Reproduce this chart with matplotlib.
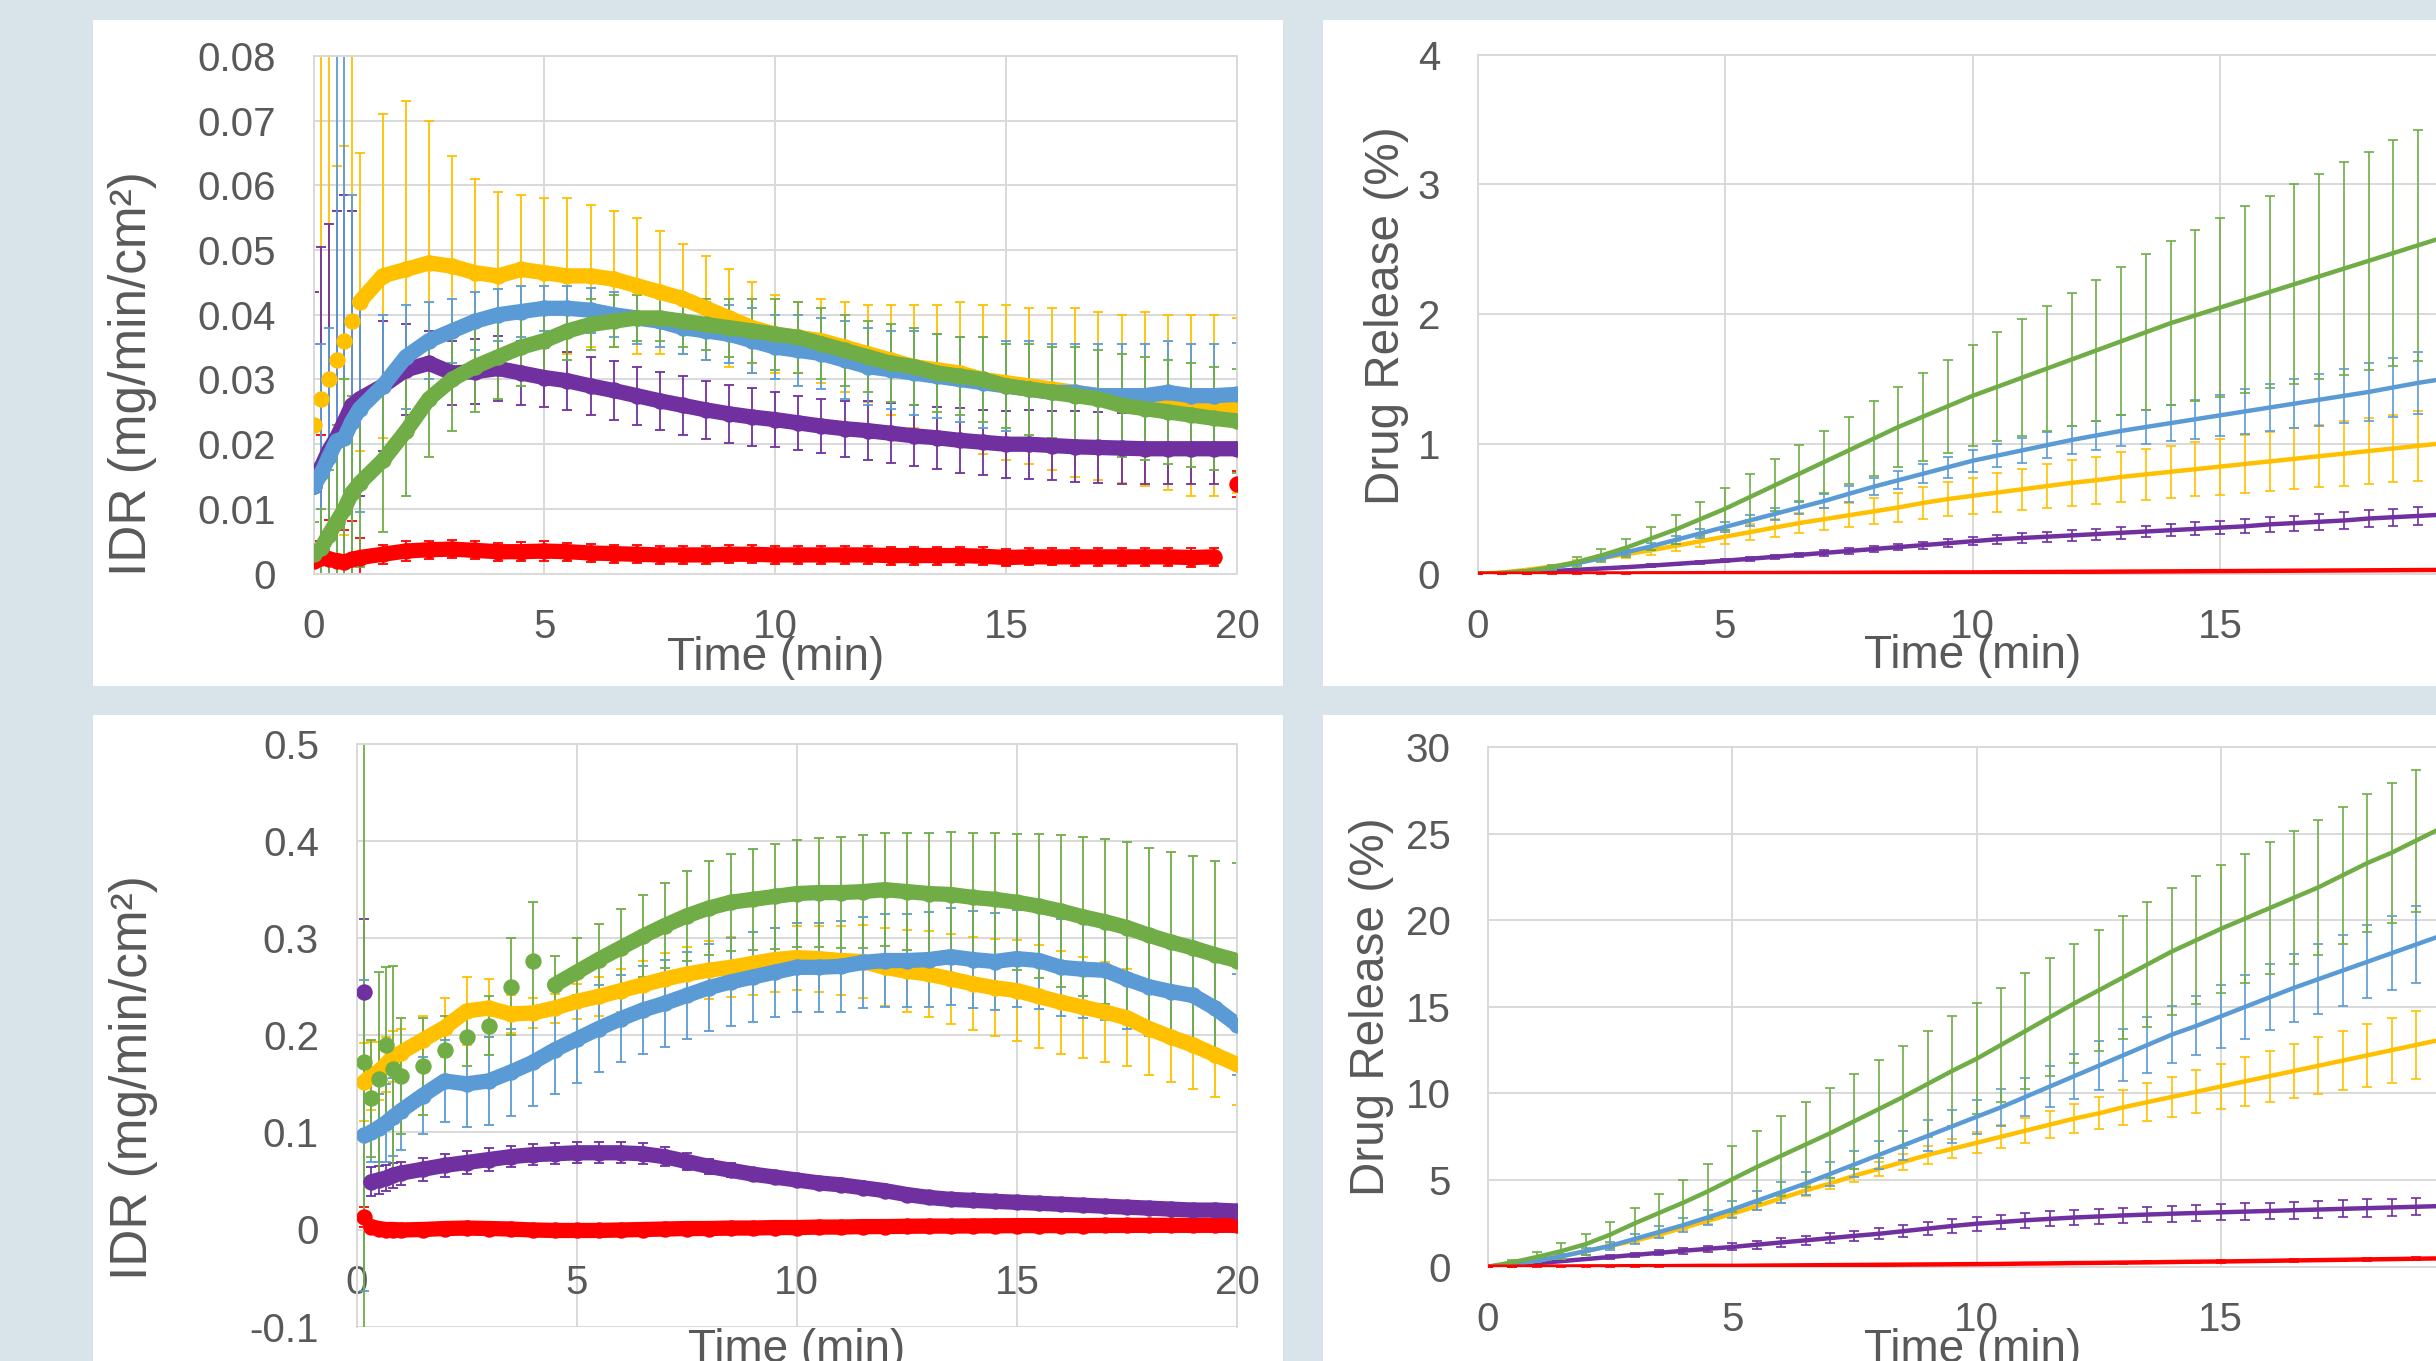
import numpy as np
import matplotlib
matplotlib.use("Agg")
import matplotlib.pyplot as plt
from matplotlib.patches import Rectangle
from matplotlib.ticker import FuncFormatter

plt.rcParams['font.family'] = ['Liberation Sans', 'DejaVu Sans']

#------------------ top-left: IDR, first formulation ------------------
idr_a_time = [0, 0.17, 0.33, 0.5, 0.67, 0.83, 1.0,
              1.5, 2.0, 2.5, 3.0, 3.5, 4.0, 4.5, 5.0, 5.5, 6.0,
              6.5, 7.0, 7.5, 8.0, 8.5, 9.0, 9.5, 10.0, 10.5, 11.0,
              11.5, 12.0, 12.5, 13.0, 13.5, 14.0, 14.5, 15.0, 15.5, 16.0,
              16.5, 17.0, 17.5, 18.0, 18.5, 19.0, 19.5, 20.0]
idr_a_yellow = [0.023, 0.027, 0.030, 0.033, 0.036, 0.039, 0.042,
                0.046, 0.047, 0.048, 0.0475, 0.0465, 0.046, 0.047, 0.0465, 0.046, 0.046,
                0.0455, 0.0445, 0.0435, 0.0425, 0.041, 0.0395, 0.038, 0.037, 0.0365, 0.036,
                0.035, 0.034, 0.033, 0.032, 0.0315, 0.031, 0.030, 0.0295, 0.029, 0.0285,
                0.028, 0.0275, 0.027, 0.027, 0.0265, 0.026, 0.026, 0.026]
idr_a_yellow_err = [0.06, 0.06, 0.06, 0.03, 0.03, 0.045, 0.023,
                    0.025, 0.026, 0.022, 0.017, 0.0145, 0.013, 0.0115, 0.0115, 0.012, 0.011,
                    0.0105, 0.0105, 0.0095, 0.0085, 0.008, 0.0075, 0.007, 0.006, 0.0055, 0.0065,
                    0.007, 0.0075, 0.0085, 0.0095, 0.010, 0.011, 0.0115, 0.012, 0.012, 0.0125,
                    0.013, 0.013, 0.013, 0.0135, 0.0135, 0.014, 0.014, 0.0135]
idr_a_blue = [0.0135, 0.0155, 0.018, 0.0205, 0.021, 0.0235, 0.0255,
              0.029, 0.0335, 0.036, 0.0375, 0.039, 0.040, 0.0405, 0.041, 0.041, 0.0407,
              0.040, 0.0395, 0.039, 0.038, 0.0375, 0.037, 0.036, 0.035, 0.0345, 0.034,
              0.033, 0.032, 0.0315, 0.031, 0.0305, 0.030, 0.0295, 0.029, 0.0285, 0.028,
              0.028, 0.0275, 0.0275, 0.0275, 0.028, 0.0275, 0.0275, 0.0277]
idr_a_blue_err = [0.022, 0.02, 0.02, 0.07, 0.07, 0.035, 0.016,
                  0.011, 0.008, 0.006, 0.005, 0.0045, 0.004, 0.004, 0.0035, 0.0035, 0.0035,
                  0.0035, 0.004, 0.004, 0.004, 0.0045, 0.0045, 0.005, 0.005, 0.0055, 0.0055,
                  0.006, 0.006, 0.006, 0.0065, 0.0065, 0.0065, 0.007, 0.007, 0.0075, 0.0075,
                  0.0075, 0.008, 0.008, 0.008, 0.008, 0.008, 0.008, 0.008]
idr_a_green = [0.003, 0.004, 0.006, 0.008, 0.010, 0.0125, 0.014,
               0.0175, 0.022, 0.027, 0.030, 0.032, 0.0335, 0.035, 0.036, 0.0375, 0.0385,
               0.039, 0.0395, 0.0395, 0.039, 0.0385, 0.038, 0.0375, 0.037, 0.0365, 0.0355,
               0.0345, 0.0335, 0.0325, 0.032, 0.031, 0.0305, 0.030, 0.029, 0.0285, 0.028,
               0.0275, 0.027, 0.026, 0.0255, 0.025, 0.0245, 0.024, 0.0236]
idr_a_green_err = [0.005, 0.006, 0.01, 0.015, 0.02, 0.015, 0.013,
                   0.011, 0.010, 0.009, 0.008, 0.007, 0.0065, 0.006, 0.005, 0.0045, 0.004,
                   0.004, 0.0035, 0.0035, 0.004, 0.004, 0.0045, 0.005, 0.0055, 0.0055, 0.0055,
                   0.0055, 0.0055, 0.006, 0.006, 0.006, 0.006, 0.0065, 0.0065, 0.007, 0.007,
                   0.0075, 0.0075, 0.008, 0.008, 0.008, 0.008, 0.008, 0.008]
idr_a_purple = [0.0135, 0.0165, 0.019, 0.021, 0.0235, 0.026, 0.027,
                0.029, 0.0315, 0.0325, 0.031, 0.0312, 0.0317, 0.031, 0.0303, 0.0298, 0.029,
                0.0283, 0.0275, 0.0267, 0.026, 0.0253, 0.0247, 0.0242, 0.0238, 0.0233, 0.0228,
                0.0224, 0.0221, 0.0217, 0.0213, 0.021, 0.0206, 0.0203, 0.020, 0.020, 0.0198,
                0.0196, 0.0195, 0.0194, 0.0193, 0.0193, 0.0193, 0.0193, 0.0193]
idr_a_purple_err = [0.03, 0.034, 0.035, 0.035, 0.035, 0.03, 0.015,
                    0.010, 0.007, 0.005, 0.005, 0.005, 0.005, 0.005, 0.0045, 0.0045, 0.0045,
                    0.0045, 0.0045, 0.0045, 0.0045, 0.0045, 0.0045, 0.0045, 0.0042, 0.0042, 0.0042,
                    0.0043, 0.0045, 0.0046, 0.0047, 0.0048, 0.005, 0.005, 0.0052, 0.0053, 0.0054,
                    0.0055, 0.0055, 0.0055, 0.0055, 0.0055, 0.0055, 0.0055, 0.0055]
idr_a_red = [0.002, 0.0025, 0.0023, 0.002, 0.0018, 0.0022, 0.0025,
             0.0030, 0.0035, 0.0037, 0.0038, 0.0036, 0.0034, 0.0034, 0.0035, 0.0034, 0.0032,
             0.0031, 0.0030, 0.0029, 0.0029, 0.0029, 0.0030, 0.0030, 0.0029, 0.0029, 0.0029,
             0.0029, 0.0029, 0.0028, 0.0028, 0.0028, 0.0028, 0.0027, 0.0025, 0.0026, 0.0026,
             0.0026, 0.0026, 0.0026, 0.0026, 0.0026, 0.0025, 0.0026, 0.0138]
idr_a_red_err = [0.003, 0.019, 0.006, 0.005, 0.005, 0.006, 0.003,
                 0.0015, 0.0015, 0.0014, 0.0014, 0.0014, 0.0014, 0.0015, 0.0015, 0.0014, 0.0014,
                 0.0014, 0.0014, 0.0014, 0.0014, 0.0014, 0.0014, 0.0014, 0.0014, 0.0014, 0.0014,
                 0.0014, 0.0014, 0.0014, 0.0014, 0.0014, 0.0014, 0.0014, 0.0013, 0.0013, 0.0013,
                 0.0014, 0.0014, 0.0014, 0.0014, 0.0014, 0.0014, 0.0014, 0.002]

#------------------ bottom-left: IDR, second formulation ------------------
idr_b_time = [0.17, 0.33, 0.5, 0.67, 0.83, 1.0,
              1.5, 2.0, 2.5, 3.0, 3.5, 4.0, 4.5, 5.0, 5.5, 6.0,
              6.5, 7.0, 7.5, 8.0, 8.5, 9.0, 9.5, 10.0, 10.5, 11.0,
              11.5, 12.0, 12.5, 13.0, 13.5, 14.0, 14.5, 15.0, 15.5, 16.0,
              16.5, 17.0, 17.5, 18.0, 18.5, 19.0, 19.5, 20.0]
idr_b_yellow = [0.152, 0.158, 0.163, 0.17, 0.178, 0.182,
                0.195, 0.208, 0.225, 0.228, 0.222, 0.223, 0.228, 0.235, 0.240, 0.246,
                0.252, 0.258, 0.263, 0.267, 0.270, 0.274, 0.278, 0.280, 0.279, 0.277,
                0.276, 0.270, 0.266, 0.263, 0.258, 0.253, 0.249, 0.246, 0.240, 0.234,
                0.229, 0.224, 0.218, 0.207, 0.198, 0.190, 0.180, 0.170]
idr_b_yellow_err = [0.04, 0.035, 0.03, 0.028, 0.026, 0.025,
                    0.025, 0.03, 0.035, 0.03, 0.02, 0.015, 0.015, 0.018, 0.02, 0.022,
                    0.025, 0.027, 0.028, 0.030, 0.031, 0.032, 0.033, 0.033, 0.034, 0.036,
                    0.038, 0.040, 0.042, 0.044, 0.046, 0.048, 0.050, 0.052, 0.053, 0.053,
                    0.052, 0.051, 0.050, 0.048, 0.046, 0.045, 0.044, 0.042]
idr_b_blue = [0.097, 0.100, 0.105, 0.110, 0.116, 0.122,
              0.138, 0.153, 0.150, 0.153, 0.162, 0.172, 0.185, 0.196, 0.207, 0.217,
              0.226, 0.233, 0.241, 0.249, 0.255, 0.260, 0.265, 0.270, 0.270, 0.271,
              0.275, 0.277, 0.277, 0.278, 0.281, 0.278, 0.276, 0.279, 0.277, 0.270,
              0.268, 0.267, 0.258, 0.250, 0.245, 0.241, 0.228, 0.211]
idr_b_blue_err = [0.16, 0.03, 0.035, 0.04, 0.04, 0.04,
                  0.04, 0.042, 0.044, 0.045, 0.045, 0.045, 0.045, 0.045, 0.045, 0.045,
                  0.045, 0.045, 0.045, 0.045, 0.045, 0.046, 0.046, 0.046, 0.046, 0.047,
                  0.047, 0.048, 0.048, 0.049, 0.05, 0.05, 0.05, 0.05, 0.05, 0.05,
                  0.05, 0.051, 0.051, 0.051, 0.052, 0.052, 0.052, 0.052]
idr_b_green = [0.172, 0.135, 0.155, 0.19, 0.165, 0.158,
               0.168, 0.185, 0.198, 0.21, 0.25, 0.277, 0.252, 0.265, 0.278, 0.290,
               0.302, 0.313, 0.323, 0.331, 0.337, 0.340, 0.343, 0.346, 0.347, 0.347,
               0.348, 0.350, 0.348, 0.346, 0.345, 0.342, 0.340, 0.337, 0.333, 0.328,
               0.322, 0.317, 0.311, 0.303, 0.296, 0.290, 0.283, 0.277]
idr_b_green_err = [0.33, 0.06, 0.11, 0.08, 0.106, 0.06,
                   0.05, 0.035, 0.03, 0.03, 0.05, 0.06, 0.03, 0.035, 0.037, 0.04,
                   0.042, 0.044, 0.046, 0.048, 0.05, 0.052, 0.054, 0.055, 0.056, 0.057,
                   0.058, 0.058, 0.06, 0.062, 0.064, 0.066, 0.068, 0.07, 0.074, 0.078,
                   0.082, 0.085, 0.088, 0.09, 0.093, 0.095, 0.097, 0.10]
idr_b_purple = [0.245, 0.049, 0.051, 0.053, 0.056, 0.058,
                0.062, 0.066, 0.069, 0.072, 0.075, 0.077, 0.078, 0.079, 0.079, 0.079,
                0.078, 0.075, 0.070, 0.065, 0.061, 0.057, 0.054, 0.051, 0.048, 0.046,
                0.043, 0.040, 0.036, 0.033, 0.031, 0.030, 0.029, 0.028, 0.027, 0.026,
                0.025, 0.024, 0.023, 0.022, 0.021, 0.020, 0.020, 0.019]
idr_b_purple_err = [0.075, 0.015, 0.014, 0.013, 0.013, 0.012,
                    0.012, 0.012, 0.012, 0.012, 0.011, 0.011, 0.011, 0.011, 0.011, 0.011,
                    0.011, 0.010, 0.009, 0.008, 0.007, 0.006, 0.006, 0.005, 0.005, 0.004,
                    0.004, 0.004, 0.003, 0.003, 0.003, 0.003, 0.003, 0.003, 0.003, 0.003,
                    0.003, 0.003, 0.003, 0.003, 0.003, 0.003, 0.003, 0.003]
idr_b_red = [0.013, 0.003, 0.001, 0.0, 0.0, -0.0005,
             0.0, 0.001, 0.0015, 0.001, 0.0005, -0.0005, -0.001, -0.001, -0.001, -0.0005,
             0.0, 0.0005, 0.001, 0.001, 0.0015, 0.0015, 0.002, 0.002, 0.0025, 0.0025,
             0.003, 0.003, 0.0033, 0.0035, 0.0035, 0.0037, 0.0038, 0.004, 0.004, 0.004,
             0.004, 0.0042, 0.0042, 0.0043, 0.0043, 0.0043, 0.0043, 0.0043]
idr_b_red_err = [0.01, 0.003, 0.002, 0.002, 0.002, 0.002,
                 0.002, 0.002, 0.002, 0.002, 0.002, 0.002, 0.002, 0.002, 0.002, 0.002,
                 0.002, 0.002, 0.002, 0.002, 0.002, 0.002, 0.002, 0.002, 0.002, 0.002,
                 0.002, 0.002, 0.002, 0.002, 0.002, 0.002, 0.002, 0.002, 0.002, 0.002,
                 0.002, 0.002, 0.002, 0.002, 0.002, 0.002, 0.002, 0.002]

#------------------ drug release panels (shared time axis) ------------------
rel_time = [0, 0.5, 1.0, 1.5, 2.0, 2.5, 3.0, 3.5, 4.0, 4.5,
            5.0, 5.5, 6.0, 6.5, 7.0, 7.5, 8.0, 8.5, 9.0, 9.5,
            10.0, 10.5, 11.0, 11.5, 12.0, 12.5, 13.0, 13.5, 14.0, 14.5,
            15.0, 15.5, 16.0, 16.5, 17.0, 17.5, 18.0, 18.5, 19.0, 19.5,
            20.0]

# top-right
rel_a_green = [0, 0.005, 0.02, 0.05, 0.09, 0.14, 0.2, 0.27, 0.34, 0.42,
               0.50, 0.59, 0.68, 0.77, 0.86, 0.95, 1.04, 1.13, 1.21, 1.29,
               1.37, 1.44, 1.51, 1.58, 1.65, 1.72, 1.79, 1.86, 1.93, 1.99,
               2.05, 2.11, 2.17, 2.23, 2.29, 2.35, 2.41, 2.47, 2.53, 2.59,
               2.65]
rel_a_green_err = [0, 0.003, 0.01, 0.02, 0.035, 0.05, 0.07, 0.09, 0.11, 0.13,
                   0.16, 0.18, 0.2, 0.22, 0.24, 0.26, 0.29, 0.31, 0.34, 0.36,
                   0.39, 0.42, 0.45, 0.48, 0.51, 0.54, 0.57, 0.60, 0.63, 0.66,
                   0.69, 0.72, 0.74, 0.77, 0.79, 0.82, 0.84, 0.87, 0.89, 0.91,
                   0.93]
rel_a_blue = [0, 0.005, 0.02, 0.045, 0.08, 0.12, 0.165, 0.21, 0.26, 0.31,
              0.36, 0.41, 0.46, 0.51, 0.56, 0.615, 0.67, 0.72, 0.77, 0.82,
              0.87, 0.91, 0.95, 0.99, 1.03, 1.065, 1.10, 1.13, 1.16, 1.19,
              1.22, 1.25, 1.28, 1.31, 1.34, 1.37, 1.40, 1.435, 1.47, 1.50,
              1.53]
rel_a_blue_err = [0, 0.003, 0.006, 0.01, 0.013, 0.017, 0.02, 0.024, 0.028, 0.032,
                  0.036, 0.04, 0.045, 0.05, 0.055, 0.06, 0.065, 0.07, 0.075, 0.08,
                  0.085, 0.09, 0.095, 0.1, 0.105, 0.11, 0.12, 0.13, 0.14, 0.15,
                  0.16, 0.17, 0.18, 0.19, 0.20, 0.21, 0.22, 0.23, 0.24, 0.245,
                  0.25]
rel_a_yellow = [0, 0.01, 0.03, 0.055, 0.085, 0.12, 0.15, 0.18, 0.215, 0.25,
                0.285, 0.32, 0.355, 0.39, 0.42, 0.45, 0.48, 0.51, 0.545, 0.575,
                0.60, 0.625, 0.65, 0.675, 0.70, 0.72, 0.745, 0.765, 0.785, 0.805,
                0.825, 0.845, 0.865, 0.885, 0.905, 0.925, 0.945, 0.965, 0.985, 1.005,
                1.025]
rel_a_yellow_err = [0, 0.004, 0.01, 0.015, 0.02, 0.025, 0.03, 0.035, 0.04, 0.047,
                    0.055, 0.062, 0.07, 0.078, 0.085, 0.093, 0.10, 0.11, 0.12, 0.13,
                    0.14, 0.15, 0.16, 0.17, 0.175, 0.18, 0.19, 0.195, 0.2, 0.21,
                    0.215, 0.22, 0.23, 0.235, 0.24, 0.25, 0.255, 0.26, 0.27, 0.275,
                    0.28]
rel_a_purple = [0, 0.005, 0.012, 0.02, 0.03, 0.04, 0.05, 0.062, 0.075, 0.088,
                0.10, 0.115, 0.13, 0.145, 0.16, 0.175, 0.19, 0.205, 0.22, 0.235,
                0.25, 0.265, 0.275, 0.285, 0.295, 0.305, 0.315, 0.325, 0.335, 0.345,
                0.355, 0.365, 0.38, 0.39, 0.40, 0.41, 0.425, 0.435, 0.445, 0.455,
                0.465]
rel_a_purple_err = [0, 0.001, 0.002, 0.003, 0.005, 0.006, 0.008, 0.009, 0.01, 0.012,
                    0.013, 0.015, 0.017, 0.018, 0.02, 0.022, 0.024, 0.026, 0.028, 0.03,
                    0.032, 0.034, 0.036, 0.038, 0.04, 0.042, 0.044, 0.046, 0.048, 0.05,
                    0.052, 0.054, 0.056, 0.058, 0.06, 0.062, 0.064, 0.066, 0.068, 0.07,
                    0.072]
rel_a_red = [0, 0, 0, 0.001, 0.001, 0.002, 0.002, 0.003, 0.003, 0.004,
             0.004, 0.005, 0.005, 0.006, 0.006, 0.007, 0.008, 0.008, 0.009, 0.01,
             0.01, 0.011, 0.012, 0.013, 0.014, 0.015, 0.016, 0.017, 0.018, 0.019,
             0.02, 0.021, 0.022, 0.023, 0.024, 0.025, 0.026, 0.027, 0.028, 0.029,
             0.03]
rel_a_red_err = [0, 0, 0, 0.001, 0.001, 0.001, 0.001, 0.001, 0.001, 0.001,
                 0.001, 0.001, 0.001, 0.001, 0.001, 0.001, 0.001, 0.001, 0.001, 0.001,
                 0.001, 0.001, 0.001, 0.001, 0.001, 0.002, 0.002, 0.002, 0.002, 0.002,
                 0.002, 0.002, 0.002, 0.002, 0.002, 0.002, 0.002, 0.002, 0.002, 0.002,
                 0.002]

# bottom-right
rel_b_green = [0, 0.25, 0.56, 0.9, 1.3, 1.85, 2.5, 3.1, 3.7, 4.35,
               5.05, 5.75, 6.4, 7.05, 7.7, 8.4, 9.1, 9.8, 10.55, 11.3,
               12.0, 12.8, 13.6, 14.4, 15.2, 15.95, 16.7, 17.45, 18.2, 18.85,
               19.5, 20.1, 20.7, 21.3, 21.9, 22.6, 23.3, 23.9, 24.6, 25.3,
               26.0]
rel_b_green_err = [0, 0.15, 0.3, 0.45, 0.6, 0.75, 0.9, 1.1, 1.3, 1.6,
                   1.9, 2.1, 2.3, 2.45, 2.6, 2.75, 2.85, 2.95, 3.05, 3.15,
                   3.2, 3.3, 3.35, 3.4, 3.45, 3.5, 3.55, 3.6, 3.65, 3.7,
                   3.7, 3.75, 3.8, 3.85, 3.9, 3.95, 4.0, 4.05, 4.1, 4.1,
                   4.15]
rel_b_blue = [0, 0.15, 0.35, 0.6, 0.9, 1.2, 1.6, 2.0, 2.4, 2.85,
              3.3, 3.8, 4.3, 4.8, 5.35, 5.9, 6.45, 7.0, 7.55, 8.1,
              8.65, 9.2, 9.8, 10.4, 11.0, 11.6, 12.2, 12.8, 13.4, 13.9,
              14.45, 15.0, 15.55, 16.1, 16.6, 17.1, 17.6, 18.1, 18.6, 19.1,
              19.5]
rel_b_blue_err = [0, 0.05, 0.1, 0.15, 0.2, 0.25, 0.3, 0.35, 0.4, 0.45,
                  0.5, 0.55, 0.6, 0.65, 0.7, 0.75, 0.8, 0.85, 0.9, 0.95,
                  1.0, 1.05, 1.1, 1.2, 1.3, 1.4, 1.5, 1.6, 1.65, 1.7,
                  1.8, 1.85, 1.9, 1.95, 2.0, 2.05, 2.1, 2.15, 2.2, 2.25,
                  2.3]
rel_b_yellow = [0, 0.15, 0.35, 0.6, 0.9, 1.2, 1.5, 1.85, 2.25, 2.65,
                3.05, 3.5, 3.95, 4.4, 4.8, 5.25, 5.65, 6.05, 6.45, 6.8,
                7.15, 7.5, 7.85, 8.2, 8.55, 8.85, 9.2, 9.5, 9.8, 10.1,
                10.4, 10.7, 11.0, 11.3, 11.6, 11.9, 12.2, 12.5, 12.8, 13.1,
                13.3]
rel_b_yellow_err = [0, 0.02, 0.04, 0.06, 0.08, 0.1, 0.12, 0.14, 0.16, 0.18,
                    0.2, 0.23, 0.26, 0.3, 0.34, 0.38, 0.42, 0.46, 0.5, 0.55,
                    0.6, 0.66, 0.72, 0.78, 0.85, 0.92, 1.0, 1.08, 1.16, 1.24,
                    1.32, 1.4, 1.48, 1.56, 1.64, 1.72, 1.8, 1.87, 1.94, 2.0,
                    2.05]
rel_b_purple = [0, 0.1, 0.2, 0.32, 0.44, 0.56, 0.68, 0.8, 0.92, 1.03,
                1.14, 1.27, 1.4, 1.52, 1.65, 1.78, 1.9, 2.05, 2.2, 2.35,
                2.48, 2.58, 2.68, 2.76, 2.84, 2.9, 2.96, 3.01, 3.06, 3.1,
                3.14, 3.18, 3.22, 3.26, 3.3, 3.34, 3.38, 3.42, 3.46, 3.5,
                3.53]
rel_b_purple_err = [0, 0.02, 0.04, 0.06, 0.08, 0.1, 0.12, 0.14, 0.16, 0.18,
                    0.2, 0.22, 0.24, 0.26, 0.28, 0.3, 0.32, 0.34, 0.36, 0.38,
                    0.4, 0.41, 0.42, 0.43, 0.44, 0.44, 0.45, 0.45, 0.46, 0.46,
                    0.47, 0.47, 0.48, 0.48, 0.49, 0.49, 0.5, 0.5, 0.5, 0.51,
                    0.51]
rel_b_red = [0, 0, 0.01, 0.01, 0.02, 0.02, 0.03, 0.03, 0.04, 0.05,
             0.05, 0.06, 0.07, 0.08, 0.09, 0.1, 0.11, 0.12, 0.13, 0.14,
             0.15, 0.16, 0.18, 0.19, 0.21, 0.22, 0.24, 0.25, 0.27, 0.29,
             0.3, 0.32, 0.34, 0.36, 0.38, 0.4, 0.42, 0.44, 0.46, 0.48,
             0.5]
rel_b_red_err = [0, 0.01, 0.01, 0.01, 0.01, 0.02, 0.02, 0.02, 0.02, 0.02,
                 0.03, 0.03, 0.03, 0.03, 0.03, 0.03, 0.04, 0.04, 0.04, 0.04,
                 0.04, 0.05, 0.05, 0.05, 0.05, 0.05, 0.06, 0.06, 0.06, 0.06,
                 0.06, 0.07, 0.07, 0.07, 0.07, 0.07, 0.08, 0.08, 0.08, 0.08,
                 0.08]

#------------------ styling ------------------
colors = {'yellow': '#FFC000', 'blue': '#5B9BD5', 'green': '#70AD47',
          'purple': '#7030A0', 'red': '#FF0000'}
order = ['red', 'yellow', 'purple', 'blue', 'green']
TEXT = '#595959'
GRID = '#d9d9d9'
W, H = 2436, 1361

fig = plt.figure(figsize=(W / 100, H / 100), dpi=100, facecolor='#d9e4ea')


def px_box(x0, x1, y0, y1):
    # pixel rectangle (top-left origin) -> figure fraction [l, b, w, h]
    return [x0 / W, 1 - y1 / H, (x1 - x0) / W, (y1 - y0) / H]


# white card behind each chart
for x0, x1, y0, y1 in [(93, 1283, 20, 686), (1323, 2460, 20, 686),
                       (93, 1283, 715, 1380), (1323, 2460, 715, 1380)]:
    l, b, w, h = px_box(x0, x1, y0, y1)
    fig.add_artist(Rectangle((l, b), w, h, transform=fig.transFigure,
                             facecolor='white', edgecolor='none', zorder=-5))


def style(ax, ylim, yticks, ylabel, ysize, ylab_xy, xlab_xy):
    ax.set_xlim(0, 20)
    ax.set_ylim(*ylim)
    ax.set_xticks([0, 5, 10, 15, 20])
    ax.set_yticks(yticks)
    ax.yaxis.set_major_formatter(FuncFormatter(lambda v, p: '%g' % round(v, 4)))
    ax.xaxis.set_major_formatter(FuncFormatter(lambda v, p: '%g' % v))
    ax.grid(True, color=GRID, lw=1.4)
    ax.set_axisbelow(True)
    for s in ax.spines.values():
        s.set_color(GRID)
        s.set_linewidth(1.4)
    ax.tick_params(axis='both', length=0, labelsize=29, labelcolor=TEXT)
    ax.tick_params(axis='x', pad=25)
    ax.tick_params(axis='y', pad=27)
    ax.set_xlabel('Time (min)', fontsize=33, color=TEXT)
    ax.xaxis.set_label_coords(*xlab_xy)
    ax.set_ylabel(ylabel, fontsize=ysize, color=TEXT)
    ax.yaxis.set_label_coords(*ylab_xy)
    ax.set_facecolor('white')


def idr_panel(ax, t, data, bands):
    t = np.array(t)
    for name in order:
        y, e = data[name]
        ax.errorbar(t, y, yerr=e, fmt='none', ecolor=colors[name],
                    elinewidth=1.3, capsize=3.6, capthick=1.3, zorder=2)
    for k, name in enumerate(order):
        y = np.array(data[name][0])
        a, b = bands[name]
        ax.plot(t[a:b], y[a:b], '-', color=colors[name], lw=11,
                solid_capstyle='round', solid_joinstyle='round', zorder=3 + k * 0.1)
        ax.plot(t, y, 'o', ms=11.8, color=colors[name], mec='none', zorder=3 + k * 0.1)


def release_panel(ax, t, data):
    for k, name in enumerate(['purple', 'yellow', 'blue', 'green', 'red']):
        y, e = data[name]
        ax.errorbar(t, y, yerr=e, color=colors[name], lw=3.2, elinewidth=1.2,
                    capsize=3.6, capthick=1.2, zorder=3 + k * 0.1)


# top-left
ax1 = fig.add_axes(px_box(313.5, 1237, 55.8, 573.7))
idr_panel(ax1, idr_a_time,
          {'yellow': (idr_a_yellow, idr_a_yellow_err), 'blue': (idr_a_blue, idr_a_blue_err),
           'green': (idr_a_green, idr_a_green_err), 'purple': (idr_a_purple, idr_a_purple_err),
           'red': (idr_a_red, idr_a_red_err)},
          {'yellow': (6, None), 'blue': (0, None), 'green': (0, None),
           'purple': (0, None), 'red': (0, 44)})
style(ax1, (0, 0.08), [0, 0.01, 0.02, 0.03, 0.04, 0.05, 0.06, 0.07, 0.08],
      'IDR (mg/min/cm²)', 37, (-0.169, 0.386), (0.5, -0.12))

# top-right
ax2 = fig.add_axes(px_box(1477.5, 2467.5, 54.5, 573.7))
release_panel(ax2, rel_time,
              {'yellow': (rel_a_yellow, rel_a_yellow_err), 'blue': (rel_a_blue, rel_a_blue_err),
               'green': (rel_a_green, rel_a_green_err), 'purple': (rel_a_purple, rel_a_purple_err),
               'red': (rel_a_red, rel_a_red_err)})
style(ax2, (0, 4), [0, 1, 2, 3, 4], 'Drug Release (%)', 34.3, (-0.069, 0.498), (0.5, -0.116))

# bottom-left
ax3 = fig.add_axes(px_box(356.5, 1237, 744, 1326.6))
idr_panel(ax3, idr_b_time,
          {'yellow': (idr_b_yellow, idr_b_yellow_err), 'blue': (idr_b_blue, idr_b_blue_err),
           'green': (idr_b_green, idr_b_green_err), 'purple': (idr_b_purple, idr_b_purple_err),
           'red': (idr_b_red, idr_b_red_err)},
          {'yellow': (0, None), 'blue': (0, None), 'green': (12, None),
           'purple': (1, None), 'red': (1, None)})
style(ax3, (-0.1, 0.5), [-0.1, 0, 0.1, 0.2, 0.3, 0.4, 0.5],
      'IDR (mg/min/cm²)', 37, (-0.225, 0.427), (0.5, -0.002))
ax3.spines['bottom'].set_position(('data', 0))

# bottom-right
ax4 = fig.add_axes(px_box(1488, 2465, 747, 1266.7))
release_panel(ax4, rel_time,
              {'yellow': (rel_b_yellow, rel_b_yellow_err), 'blue': (rel_b_blue, rel_b_blue_err),
               'green': (rel_b_green, rel_b_green_err), 'purple': (rel_b_purple, rel_b_purple_err),
               'red': (rel_b_red, rel_b_red_err)})
style(ax4, (0, 30), [0, 5, 10, 15, 20, 25, 30], 'Drug Release (%)', 34.3,
      (-0.096, 0.50), (0.496, -0.118))

fig.savefig("out.png", dpi=100, facecolor=fig.get_facecolor())
